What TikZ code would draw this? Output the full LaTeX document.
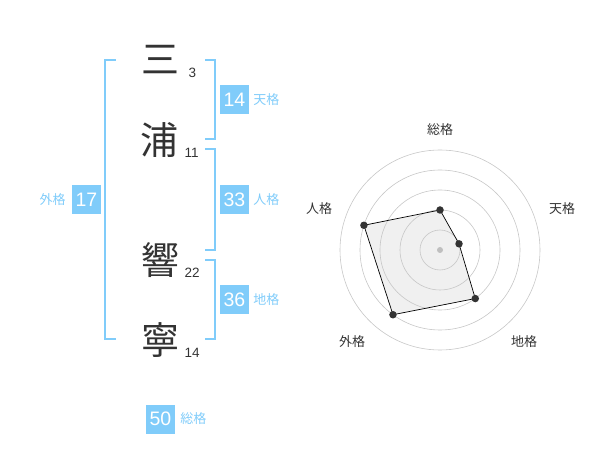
\documentclass[tikz,border=0pt]{standalone}
\usepackage{fontspec}
\usetikzlibrary{positioning}
\setmainfont{Liberation Sans}
\newfontfamily\cjk{Noto Sans CJK JP}
\definecolor{kaku}{RGB}{128,204,250}
\definecolor{moji}{RGB}{51,51,51}
\begin{document}
\begin{tikzpicture}[x=1pt,y=-1pt]

    \tikzset{
      kanji/.style={
        font=\cjk\fontsize{38}{38}\selectfont,
        text=moji,
        inner sep=0pt,
      },
      kakusu/.style={
        font=\fontsize{13.5}{13.5}\selectfont,
        text=moji,
        anchor=base west,
        inner sep=0pt,
      },
      numbox/.style={
        fill=kaku,
        text=white,
        font=\fontsize{19.5}{19.5}\selectfont,
        minimum width=29pt,
        minimum height=29pt,
        inner sep=0pt,
      },
      kakuname/.style={
        font=\cjk\fontsize{13}{13}\selectfont,
        text=kaku,
        inner sep=0pt,
      },
      axisname/.style={
        font=\cjk\fontsize{13}{13}\selectfont,
        text=moji,
        inner sep=0pt,
      },
      bracket/.style={draw=kaku, line width=2pt},
      ring/.style={draw=black!22, line width=0.6pt},
      point/.style={circle, fill=moji, inner sep=0pt, minimum size=7.5pt},
    }
    \useasboundingbox (0,0) rectangle (600,470);

	\node[kanji] (san) at (160,60) {三};
	\node[kanji] (ura) at (159,140) {浦};
	\node[kanji] (hibiki) at (160,260) {響};
	\node[kanji] (nei) at (160,340) {寧};
	\node[kakusu] (san-n) at (188.5,77.5) {3};
	\node[kakusu] (ura-n) at (184.5,158) {11};
	\node[kakusu] (hibiki-n) at (184.5,277.5) {22};
	\node[kakusu] (nei-n) at (184.5,357.5) {14};

	\draw[bracket] (115.7,60)--(105,60)--(105,339.3)--(115.7,339.3);
	\draw[bracket] (205,60)--(215,60)--(215,139.3)--(205,139.3);
	\draw[bracket] (205,149)--(215,149)--(215,250)--(205,250);
	\draw[bracket] (205,260)--(215,260)--(215,339.3)--(205,339.3);

	\node[numbox] (ten) at (234.5,100) {14};
	\node[kakuname, right=4pt of ten] (ten-l) {天格};
	\node[numbox] (jin) at (234.5,200) {33};
	\node[kakuname, right=4pt of jin] (jin-l) {人格};
	\node[numbox] (chi) at (234.5,300) {36};
	\node[kakuname, right=4pt of chi] (chi-l) {地格};
	\node[numbox] (gai) at (86.5,200) {17};
	\node[kakuname, left=6pt of gai] (gai-l) {外格};
	\node[numbox] (sou) at (160.5,419) {50};
	\node[kakuname, right=5pt of sou] (sou-l) {総格};

    \begin{scope}[shift={(440,250)}]
	\coordinate (c) at (0,0);
	\coordinate (r-sou) at (90:40pt);
	\coordinate (r-ten) at (18:20pt);
	\coordinate (r-chi) at (-54:60pt);
	\coordinate (r-gai) at (-126:80pt);
	\coordinate (r-jin) at (162:80pt);
	\fill[black!6] (r-sou)--(r-ten)--(r-chi)--(r-gai)--(r-jin)--cycle;
	\foreach \r in {20,40,...,100}
	  \draw[ring] (c) circle[radius=\r pt];
	\fill[black!25] (c) circle[radius=3pt];
	\draw[black, line width=0.7pt] (r-sou)--(r-ten)--(r-chi)--(r-gai)--(r-jin)--cycle;
	\foreach \p in {sou,ten,chi,gai,jin}
	  \node[point] at (r-\p) {};
	\node[axisname] (a-sou) at (0pt,120pt) {総格};
	\node[axisname] (a-ten) at (122pt,41pt) {天格};
	\node[axisname] (a-chi) at (84pt,-92pt) {地格};
	\node[axisname] (a-gai) at (-88pt,-92pt) {外格};
	\node[axisname] (a-jin) at (-121pt,41pt) {人格};
    \end{scope}

\end{tikzpicture}
\end{document}
